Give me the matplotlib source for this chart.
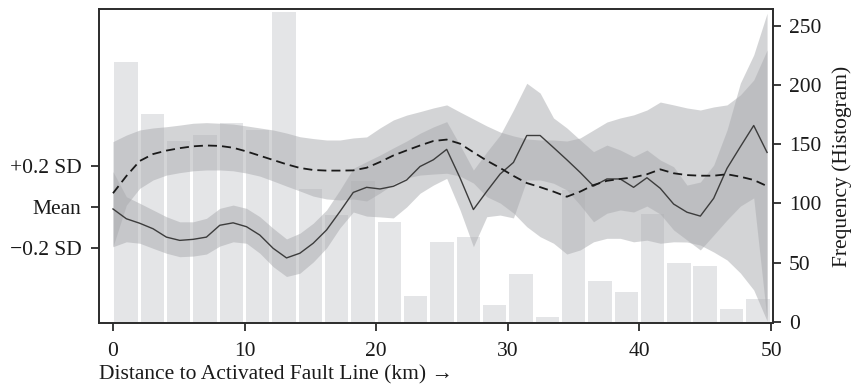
import matplotlib

matplotlib.use("Agg")
import matplotlib.pyplot as plt
import numpy as np

plt.rcParams["font.family"] = ["Liberation Serif", "DejaVu Serif"]
plt.rcParams["font.size"] = 15.5

# histogram of sites per 2 km distance bin
bin_centers = np.arange(1, 50, 2)
freq = [220, 176, 153, 158, 168, 162, 262, 112, 90, 119, 84, 22, 67,
        72, 14, 40, 4, 111, 34, 25, 91, 50, 47, 11, 19]

# smoothed response along distance (units of SD)
dist = np.linspace(0, 49.7, 50)
solid_mean = [-0.011, -0.059, -0.081, -0.108, -0.149, -0.165, -0.160, -0.149, -0.091, -0.079,
              -0.098, -0.139, -0.204, -0.251, -0.228, -0.179, -0.114, -0.024, 0.070, 0.095,
              0.087, 0.100, 0.131, 0.197, 0.230, 0.281, 0.141, -0.014, 0.075, 0.160,
              0.217, 0.349, 0.349, 0.290, 0.230, 0.168, 0.101, 0.136, 0.136, 0.095,
              0.142, 0.090, 0.013, -0.027, -0.046, 0.041, 0.188, 0.294, 0.398, 0.266]
solid_hi = [0.172, 0.049, 0.017, -0.016, -0.049, -0.074, -0.074, -0.057, -0.008, 0.008,
            -0.008, -0.049, -0.106, -0.158, -0.130, -0.081, -0.016, 0.082, 0.188, 0.221,
            0.253, 0.288, 0.322, 0.360, 0.391, 0.417, 0.302, 0.180, 0.268, 0.351,
            0.474, 0.605, 0.557, 0.435, 0.386, 0.327, 0.270, 0.302, 0.278, 0.245,
            0.278, 0.229, 0.196, 0.106, 0.121, 0.204, 0.376, 0.606, 0.744, 0.948]
solid_lo = [-0.196, -0.172, -0.179, -0.204, -0.228, -0.245, -0.242, -0.232, -0.193, -0.172,
            -0.179, -0.228, -0.294, -0.342, -0.326, -0.271, -0.202, -0.104, -0.026, -0.046,
            -0.050, -0.055, -0.001, 0.066, 0.106, 0.139, -0.016, -0.196, -0.049, -0.041,
            -0.055, 0.131, 0.131, 0.115, 0.082, 0.008, -0.074, -0.032, -0.016, -0.026,
            0.003, -0.036, -0.114, -0.163, -0.212, -0.139, -0.065, 0.003, 0.043, -0.555]

dashed_mean = [0.066, 0.150, 0.224, 0.258, 0.275, 0.287, 0.296, 0.300, 0.298, 0.289,
               0.271, 0.250, 0.229, 0.208, 0.190, 0.180, 0.177, 0.177, 0.178, 0.191,
               0.219, 0.251, 0.276, 0.300, 0.322, 0.329, 0.309, 0.267, 0.226, 0.190,
               0.151, 0.116, 0.096, 0.074, 0.049, 0.074, 0.106, 0.127, 0.136, 0.144,
               0.159, 0.183, 0.164, 0.155, 0.152, 0.152, 0.159, 0.147, 0.131, 0.101]
dashed_hi = [0.319, 0.351, 0.376, 0.386, 0.392, 0.400, 0.409, 0.412, 0.409, 0.405,
             0.396, 0.386, 0.376, 0.361, 0.343, 0.334, 0.327, 0.327, 0.337, 0.342,
             0.386, 0.425, 0.449, 0.466, 0.484, 0.499, 0.464, 0.430, 0.396, 0.366,
             0.347, 0.332, 0.327, 0.327, 0.322, 0.337, 0.376, 0.415, 0.435, 0.450,
             0.474, 0.513, 0.499, 0.484, 0.474, 0.489, 0.499, 0.548, 0.621, 0.768]
dashed_lo = [-0.196, 0.008, 0.090, 0.131, 0.155, 0.167, 0.176, 0.180, 0.180, 0.176,
             0.165, 0.150, 0.126, 0.101, 0.077, 0.052, 0.038, 0.033, 0.038, 0.028,
             0.067, 0.111, 0.141, 0.155, 0.160, 0.164, 0.150, 0.116, 0.049, 0.018,
             -0.031, -0.098, -0.147, -0.179, -0.232, -0.212, -0.172, -0.155, -0.155, -0.172,
             -0.164, -0.179, -0.172, -0.173, -0.188, -0.222, -0.261, -0.325, -0.408, -0.560]

sd_ticks = [-0.2, 0.0, 0.2]
sd_labels = ["\u22120.2 SD", "Mean", "+0.2 SD"]
freq_ticks = [0, 50, 100, 150, 200, 250]
dist_ticks = [0, 10, 20, 30, 40, 50]

ink = "#2b2b2b"
band = "#a9aaae"

fig = plt.figure(figsize=(8.53, 3.88), dpi=100)
ax = fig.add_axes([0.1161, 0.1675, 0.7901, 0.8093])
ax2 = ax.twinx()

ax2.bar(bin_centers, freq, width=1.78, color="#e4e5e7", linewidth=0)
ax.set_zorder(ax2.get_zorder() + 1)
ax.patch.set_visible(False)

ax.fill_between(dist, dashed_lo, dashed_hi, color=band, alpha=0.5, linewidth=0)
ax.fill_between(dist, solid_lo, solid_hi, color=band, alpha=0.5, linewidth=0)
ax.plot(dist, solid_mean, color="#3c3c3c", linewidth=1.0)
ax.plot(dist, dashed_mean, color="#1a1a1a", linewidth=1.3, dashes=(5, 2.8))

ax.set_xlim(-1.06, 50.15)
ax.set_ylim(-0.570, 0.969)
ax2.set_ylim(-1.1, 264.4)

ax.set_xticks(dist_ticks)
ax.set_yticks(sd_ticks)
ax.set_yticklabels(sd_labels)
ax2.set_yticks(freq_ticks)

for a in (ax, ax2):
    for s in a.spines.values():
        s.set_color(ink)
        s.set_linewidth(1.2)
    a.tick_params(direction="out", length=6, width=1.3, color=ink,
                  labelcolor="#1a1a1a", pad=5.5)
ax.tick_params(axis="x", pad=8)
ax.tick_params(axis="y", pad=6.5)

ax2.set_ylabel("Frequency (Histogram)", color="#1a1a1a", labelpad=8)
ax.set_xlabel("Distance to Activated Fault Line (km) \u2192", loc="left",
              color="#1a1a1a", labelpad=3)

fig.savefig("out.png", dpi=100)
